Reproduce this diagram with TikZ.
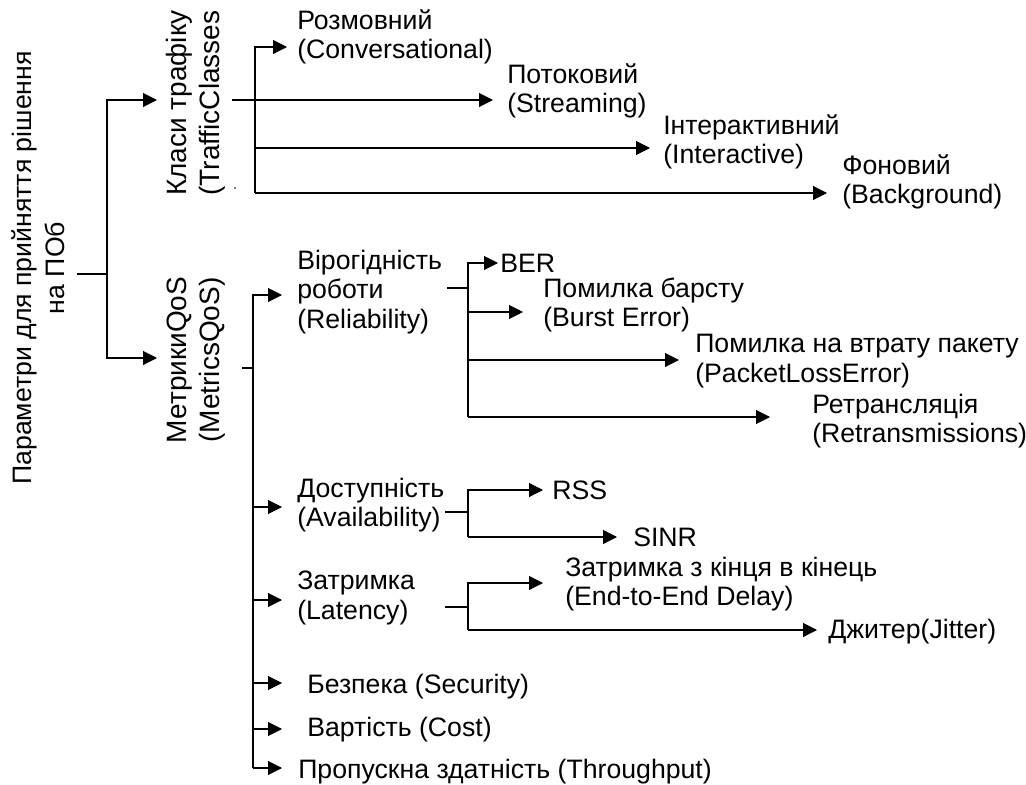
\documentclass[tikz,border=0pt]{standalone}
\usepackage{fontspec}
\setmainfont{Liberation Sans}
\usetikzlibrary{arrows.meta}
\begin{document}
\begin{tikzpicture}[x=0.75pt,y=-0.75pt,
  lbl/.style={font=\fontsize{20}{22}\selectfont, inner sep=0pt, anchor=west, align=left},
  rlbl/.style={font=\fontsize{21}{24.75}\selectfont, inner sep=0pt, rotate=90, align=center},
  conn/.style={line width=0.8pt},
  arr/.style={conn, -{Triangle[length=10.5pt,width=10.5pt]}}]
\useasboundingbox (0,0) rectangle (1026,785);
\fill[white] (0,0) rectangle (1026,785);

% ---- labels ----
\node[rlbl, font=\fontsize{20}{24.75}\selectfont] (root) at (38,268) {Параметри для прийняття рішення\\на ПОб};
\node[rlbl] (tc) at (196,103) {Класи трафіку\\(TrafficClasses};
\node[rlbl] (mq) at (196,360) {МетрикиQoS\\(MetricsQoS)};

\node[lbl] (conv) at (297,37) {Розмовний\\(Conversational)};
\node[lbl] (stream) at (507,91) {Потоковий\\(Streaming)};
\node[lbl] (inter) at (663,142) {Інтерактивний\\(Interactive)};
\node[lbl] (back) at (842,182) {Фоновий\\(Background)};

\node[lbl] (rel) at (297,292) {Вірогідність\\роботи\\(Reliability)};
\node[lbl] (ber) at (500,263) {BER};
\node[lbl] (burst) at (543,305) {Помилка барсту\\(Burst Error)};
\node[lbl] (ploss) at (695,361) {Помилка на втрату пакету\\(PacketLossError)};
\node[lbl] (retr) at (812,421) {Ретрансляція\\(Retransmissions)};

\node[lbl] (avail) at (297,505) {Доступність\\(Availability)};
\node[lbl] (rss) at (552,490) {RSS};
\node[lbl] (sinr) at (633,537) {SINR};

\node[lbl] (lat) at (297,598) {Затримка\\(Latency)};
\node[lbl] (e2e) at (565,584) {Затримка з кінця в кінець\\(End-to-End Delay)};
\node[lbl] (jit) at (828,632) {Джитер(Jitter)};

\node[lbl] (sec) at (307,687) {Безпека (Security)};
\node[lbl] (cost) at (307,730) {Вартість (Cost)};
\node[lbl] (thr) at (298,772) {Пропускна здатність (Throughput)};

% ---- root connectors ----
\coordinate (r0) at (77,274);
\coordinate (r1) at (107,274);
\coordinate (rT) at (107,100);
\coordinate (rB) at (107,358);
\coordinate (tTC) at (157,100);
\coordinate (tMQ) at (157,358);
\draw[conn] (r0) -- (r1);
\draw[arr] (r1) -- (rT) -- (tTC);
\draw[arr] (r1) -- (rB) -- (tMQ);

% ---- traffic classes ----
\coordinate (tcA) at (232,100);
\coordinate (tcTop) at (255,47);
\coordinate (tcBot) at (255,193);
\coordinate (tConv) at (287,47);
\coordinate (tStream) at (493,100);
\coordinate (tInter) at (650,148);
\coordinate (tBack) at (827,193);
\draw[arr] (tcBot) -- (tcTop) -- (tConv);
\draw[arr] (tcA) -- (tStream);
\draw[arr] (tcBot |- tInter) -- (tInter);
\draw[arr] (tcBot) -- (tBack);
\fill (235,188) circle (0.6pt);

% ---- metrics ----
\coordinate (mqA) at (242,368);
\coordinate (mqB) at (253,368);
\coordinate (mTop) at (253,295);
\coordinate (mBot) at (253,768);
\coordinate (tRel) at (282,295);
\coordinate (tAv) at (282,507);
\coordinate (tLat) at (282,600);
\coordinate (tSec) at (282,683);
\coordinate (tCost) at (282,729);
\coordinate (tThr) at (282,768);
\draw[conn] (mqA) -- (mqB);
\draw[arr] (mBot) -- (mTop) -- (tRel);
\draw[arr] (mTop |- tAv) -- (tAv);
\draw[arr] (mTop |- tLat) -- (tLat);
\draw[arr] (mTop |- tSec) -- (tSec);
\draw[arr] (mTop |- tCost) -- (tCost);
\draw[arr] (mBot) -- (tThr);

% ---- reliability ----
\coordinate (rlA) at (447,288);
\coordinate (rlB) at (468,288);
\coordinate (rlTop) at (468,263);
\coordinate (rlBot) at (468,417);
\coordinate (tBER) at (498,263);
\coordinate (tBurst) at (523,312);
\coordinate (tPloss) at (679,360);
\coordinate (tRetr) at (770,417);
\draw[conn] (rlA) -- (rlB);
\draw[arr] (rlBot) -- (rlTop) -- (tBER);
\draw[arr] (rlTop |- tBurst) -- (tBurst);
\draw[arr] (rlTop |- tPloss) -- (tPloss);
\draw[arr] (rlBot) -- (tRetr);

% ---- availability ----
\coordinate (avA) at (445,512);
\coordinate (avB) at (468,512);
\coordinate (avTop) at (468,490);
\coordinate (avBot) at (468,537);
\coordinate (tRSS) at (543,490);
\coordinate (tSINR) at (617,537);
\draw[conn] (avA) -- (avB);
\draw[arr] (avBot) -- (avTop) -- (tRSS);
\draw[arr] (avBot) -- (tSINR);

% ---- latency ----
\coordinate (ltA) at (445,607);
\coordinate (ltB) at (468,607);
\coordinate (ltTop) at (468,583);
\coordinate (ltBot) at (468,630);
\coordinate (tE2E) at (543,583);
\coordinate (tJit) at (817,630);
\draw[conn] (ltA) -- (ltB);
\draw[arr] (ltBot) -- (ltTop) -- (tE2E);
\draw[arr] (ltBot) -- (tJit);
\end{tikzpicture}
\end{document}
